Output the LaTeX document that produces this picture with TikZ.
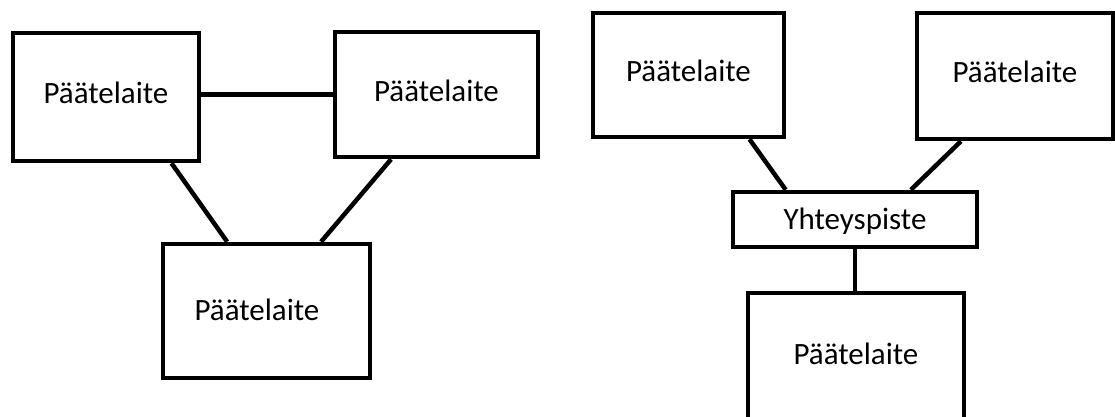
\documentclass[tikz,border=0pt]{standalone}
\usepackage{fontspec}
\setmainfont{Carlito}
\usetikzlibrary{calc}
\begin{document}
\begin{tikzpicture}[x=1pt,y=-1pt]
\tikzset{
  devbox/.style={draw=black, line width=4.5pt, inner sep=0pt,
    font=\fontsize{31}{37}\selectfont, text height=21.7pt, text depth=7.75pt},
  link/.style={draw=black, line width=4.5pt}
}
\useasboundingbox (0,0) rectangle (1115,417);
\clip (0,0) rectangle (1115,417);
% left diagram
\node[devbox, minimum width=186pt, minimum height=128pt] (A) at (106,97) {Päätelaite};
\node[devbox, minimum width=203pt, minimum height=125pt] (B) at (436.5,94.5) {Päätelaite};
\node[devbox, minimum width=207pt, minimum height=134pt] (C) at (266.5,311) {\kern-19pt\raisebox{-3pt}{Päätelaite}};
\draw[link] (A.east |- B.west) -- (B.west);
\draw[link] ($(A.south west)!0.844!(A.south east)$) -- ($(C.north west)!0.314!(C.north east)$);
\draw[link] ($(B.south west)!0.281!(B.south east)$) -- ($(C.north west)!0.758!(C.north east)$);
% right diagram
\node[devbox, minimum width=191pt, minimum height=124pt] (D) at (688.5,75) {Päätelaite};
\node[devbox, minimum width=196pt, minimum height=126pt] (F) at (1015,76) {Päätelaite};
\node[devbox, minimum width=244pt, minimum height=55pt] (E) at (855,219.5) {\raisebox{-3.5pt}{Yhteyspiste}};
\node[devbox, minimum width=216pt, minimum height=130pt] (G) at (856,358) {Päätelaite};
\draw[link] ($(D.south west)!0.812!(D.south east)$) -- ($(E.north west)!0.221!(E.north east)$);
\draw[link] ($(F.south west)!0.230!(F.south east)$) -- ($(E.north west)!0.725!(E.north east)$);
\draw[link] (E.south) -- (E.south |- G.north);
\end{tikzpicture}
\end{document}
